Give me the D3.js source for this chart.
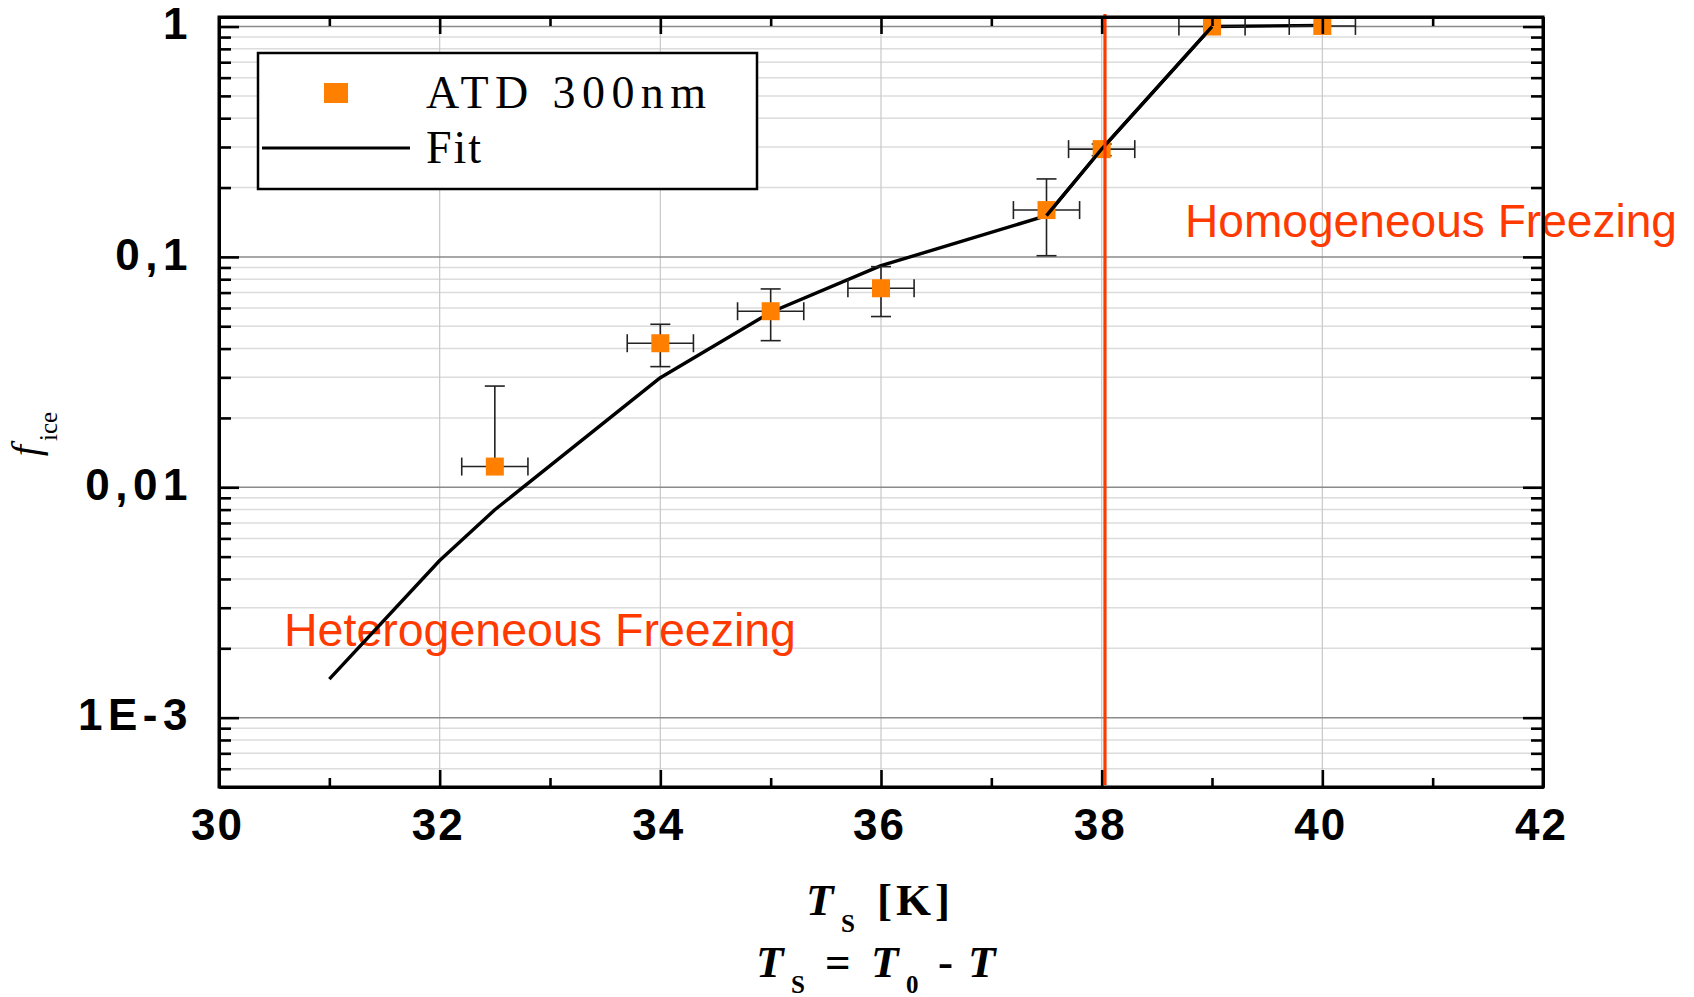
<!DOCTYPE html>
<html>
<head>
<meta charset="utf-8">
<script src="https://cdn.jsdelivr.net/npm/d3@7"></script>
<style>
  body { margin: 0; background: #fff; }
  svg { display: block; }
</style>
</head>
<body>
<svg id="chart"></svg>
<script>
// measured points: supercooling T_S vs frozen fraction
var tempS   = [32.5, 34, 35, 36, 37.5, 38, 39, 40];
var fIce    = [0.0123, 0.0422, 0.0581, 0.0731, 0.1597, 0.2937, 1.0, 1.006];
var fIceHi  = [0.0275, 0.051, 0.0726, 0.0907, 0.218, 0.309, null, null];
var fIceLo  = [null, 0.0334, 0.0433, 0.0551, 0.1012, 0.275, null, null];
var tempErr = [0.3, 0.3, 0.3, 0.3, 0.3, 0.3, 0.3, 0.3];

// fit curve
var fitT = [31, 32, 32.5, 34, 35, 36, 37.5, 38, 39, 40];
var fitF = [0.00147, 0.00481, 0.00799, 0.0299, 0.0575, 0.0916, 0.151, 0.294, 1.0, 1.012];

// homogeneous freezing threshold
var threshold = 38.03;

var xTicksMajor = [30, 32, 34, 36, 38, 40, 42];
var xTicksMinor = [31, 33, 35, 37, 39, 41];
var yTicksMajor = [0.001, 0.01, 0.1, 1];
var yTickLabels = ["1E-3", "0,01", "0,1", "1"];

var width = 1694, height = 997;
var pLeft = 219, pRight = 1543, pTop = 17, pBottom = 787;

var orange = "#ff8000";
var red = "#ff3a00";
var serif = "Liberation Serif, Times New Roman, serif";
var sans = "Liberation Sans, Arial, sans-serif";

var svg = d3.select("#chart").attr("width", width).attr("height", height);

var x = d3.scaleLinear().domain([30, 42]).range([pLeft, pRight]);
var y = d3.scaleLog().domain([5e-4, 1.1]).range([pBottom, pTop]);

/* grid */
var yAll = y.ticks().filter(function (v) { return v > 5.01e-4; });
function isDecade(v) { return Math.abs(Math.log10(v) - Math.round(Math.log10(v))) < 1e-6; }
var yMinor = yAll.filter(function (v) { return !isDecade(v); });

svg.append("g").selectAll("line").data(yMinor)
  .enter().append("line")
    .attr("x1", pLeft).attr("x2", pRight)
    .attr("y1", function (d) { return y(d); }).attr("y2", function (d) { return y(d); })
    .attr("stroke", "#dcdcdc").attr("stroke-width", 1.5);

svg.append("g").selectAll("line").data(xTicksMajor.slice(1, -1))
  .enter().append("line")
    .attr("x1", function (d) { return x(d); }).attr("x2", function (d) { return x(d); })
    .attr("y1", pTop).attr("y2", pBottom)
    .attr("stroke", "#c8c8c8").attr("stroke-width", 1.2);

svg.append("g").selectAll("line").data(yTicksMajor)
  .enter().append("line")
    .attr("x1", pLeft).attr("x2", pRight)
    .attr("y1", function (d) { return y(d); }).attr("y2", function (d) { return y(d); })
    .attr("stroke", "#8a8a8a").attr("stroke-width", 1.5);

/* annotations */
svg.append("text")
  .attr("x", 284).attr("y", 646)
  .attr("font-family", sans)
  .attr("font-size", 46).attr("fill", red)
  .attr("textLength", 512).attr("lengthAdjust", "spacingAndGlyphs")
  .text("Heterogeneous Freezing");

svg.append("text")
  .attr("x", 1185).attr("y", 237)
  .attr("font-family", sans)
  .attr("font-size", 46).attr("fill", red)
  .attr("textLength", 492).attr("lengthAdjust", "spacingAndGlyphs")
  .text("Homogeneous Freezing");

/* fit line */
var fitData = fitT.map(function (t, i) { return { t: t, f: fitF[i] }; });
var fitLine = d3.line().x(function (d) { return x(d.t); }).y(function (d) { return y(d.f); });
svg.append("path")
  .datum(fitData)
  .attr("fill", "none").attr("stroke", "#000").attr("stroke-width", 3.4)
  .attr("stroke-linejoin", "round")
  .attr("d", fitLine);

/* error bars + points */
var pts = tempS.map(function (t, i) {
  return { t: t, f: fIce[i], hi: fIceHi[i], lo: fIceLo[i], e: tempErr[i] };
});
var cap = 9;
var eb = svg.append("g").attr("stroke", "#222").attr("stroke-width", 1.6);
pts.forEach(function (d) {
  var cy = y(d.f);
  var x0 = x(d.t - d.e), x1 = x(d.t + d.e);
  eb.append("line").attr("x1", x0).attr("x2", x1).attr("y1", cy).attr("y2", cy);
  eb.append("line").attr("x1", x0).attr("x2", x0).attr("y1", cy - cap).attr("y2", cy + cap);
  eb.append("line").attr("x1", x1).attr("x2", x1).attr("y1", cy - cap).attr("y2", cy + cap);
  var cx = x(d.t);
  if (d.hi != null) {
    eb.append("line").attr("x1", cx).attr("x2", cx).attr("y1", cy).attr("y2", y(d.hi));
    eb.append("line").attr("x1", cx - cap - 1).attr("x2", cx + cap + 1).attr("y1", y(d.hi)).attr("y2", y(d.hi));
  }
  if (d.lo != null) {
    eb.append("line").attr("x1", cx).attr("x2", cx).attr("y1", cy).attr("y2", y(d.lo));
    eb.append("line").attr("x1", cx - cap - 1).attr("x2", cx + cap + 1).attr("y1", y(d.lo)).attr("y2", y(d.lo));
  }
});

svg.append("g").selectAll("rect").data(pts)
  .enter().append("rect")
    .attr("x", function (d) { return x(d.t) - 9; })
    .attr("y", function (d) { return y(d.f) - 9; })
    .attr("width", 18).attr("height", 18)
    .attr("fill", orange);

// in the original the fit crosses over the markers near the threshold
svg.append("path")
  .datum(fitData.filter(function (d) { return d.t >= 37.5 && d.t <= 39; }))
  .attr("fill", "none").attr("stroke", "#000").attr("stroke-width", 3.4)
  .attr("d", fitLine);

/* threshold line */
svg.append("line")
  .attr("x1", x(threshold)).attr("x2", x(threshold))
  .attr("y1", pTop - 3).attr("y2", pBottom - 2)
  .attr("stroke", red).attr("stroke-width", 3.2);

/* axes */
function styleAxis(g) {
  g.select(".domain").attr("stroke-width", 3).attr("stroke", "#000");
  g.selectAll(".tick line").attr("stroke-width", 2.6).attr("stroke", "#000");
}

svg.append("g").attr("transform", "translate(0," + pBottom + ")")
  .call(d3.axisBottom(x).tickValues(xTicksMinor).tickSize(-9).tickSizeOuter(0).tickFormat(""))
  .call(styleAxis);
var gxb = svg.append("g").attr("transform", "translate(0," + pBottom + ")")
  .call(d3.axisBottom(x).tickValues(xTicksMajor).tickSize(-17).tickSizeOuter(0).tickPadding(22).tickFormat(d3.format("d")))
  .call(styleAxis);
gxb.selectAll("text")
  .attr("font-family", sans)
  .attr("font-size", 44).attr("font-weight", "bold").attr("fill", "#000")
  .attr("letter-spacing", 2).attr("dx", -2);

svg.append("g").attr("transform", "translate(0," + pTop + ")")
  .call(d3.axisTop(x).tickValues(xTicksMinor).tickSize(-9).tickSizeOuter(0).tickFormat(""))
  .call(styleAxis);
svg.append("g").attr("transform", "translate(0," + pTop + ")")
  .call(d3.axisTop(x).tickValues(xTicksMajor).tickSize(-17).tickSizeOuter(0).tickFormat(""))
  .call(styleAxis);

svg.append("g").attr("transform", "translate(" + pLeft + ",0)")
  .call(d3.axisLeft(y).tickValues(yMinor).tickSize(-12).tickSizeOuter(0).tickFormat(""))
  .call(styleAxis);
var gyl = svg.append("g").attr("transform", "translate(" + pLeft + ",0)")
  .call(d3.axisLeft(y).tickValues(yTicksMajor).tickSize(-20).tickSizeOuter(0).tickPadding(26)
    .tickFormat(function (d, i) { return yTickLabels[i]; }))
  .call(styleAxis);
gyl.selectAll("text")
  .attr("font-family", sans)
  .attr("font-size", 44).attr("font-weight", "bold").attr("fill", "#000")
  .attr("letter-spacing", 5.5).attr("dy", "0.28em");

svg.append("g").attr("transform", "translate(" + pRight + ",0)")
  .call(d3.axisRight(y).tickValues(yMinor).tickSize(-12).tickSizeOuter(0).tickFormat(""))
  .call(styleAxis);
svg.append("g").attr("transform", "translate(" + pRight + ",0)")
  .call(d3.axisRight(y).tickValues(yTicksMajor).tickSize(-20).tickSizeOuter(0).tickFormat(""))
  .call(styleAxis);

// close frame corners
svg.append("rect")
  .attr("x", pLeft).attr("y", pTop).attr("width", pRight - pLeft).attr("height", pBottom - pTop)
  .attr("fill", "none").attr("stroke", "#000").attr("stroke-width", 3);

/* legend */
var lg = svg.append("g");
lg.append("rect").attr("x", 258).attr("y", 53).attr("width", 499).attr("height", 136)
  .attr("fill", "#fff").attr("stroke", "#000").attr("stroke-width", 2.5);
lg.append("rect").attr("x", 324).attr("y", 83).attr("width", 24).attr("height", 20).attr("fill", orange);
lg.append("line").attr("x1", 262).attr("x2", 410).attr("y1", 148).attr("y2", 148)
  .attr("stroke", "#000").attr("stroke-width", 3);
lg.append("text").attr("x", 426).attr("y", 108)
  .attr("font-family", serif).attr("font-size", 46)
  .attr("textLength", 280).attr("lengthAdjust", "spacing")
  .text("ATD 300nm");
lg.append("text").attr("x", 426).attr("y", 163)
  .attr("font-family", serif).attr("font-size", 46)
  .attr("letter-spacing", 2)
  .text("Fit");

/* axis titles */
var yt = svg.append("text")
  .attr("transform", "translate(39,434) rotate(-90)")
  .attr("text-anchor", "middle")
  .attr("font-family", serif);
yt.append("tspan").attr("font-style", "italic").attr("font-size", 40).text("f");
yt.append("tspan").attr("font-size", 25).attr("dy", 18).attr("dx", 4).text("ice");

var cx = (pLeft + pRight) / 2;
function titlePart(t, dx, dy, txt, opts) {
  var s = t.append("tspan").attr("x", cx + dx).attr("y", dy).text(txt);
  if (opts && opts.italic) s.attr("font-style", "italic");
  if (opts && opts.size) s.attr("font-size", opts.size);
  if (opts && opts.ls) s.attr("letter-spacing", opts.ls);
  return s;
}
var xt1 = svg.append("text").attr("font-family", serif).attr("font-weight", "bold").attr("font-size", 45);
titlePart(xt1, -75, 915, "T", { italic: true });
titlePart(xt1, -40, 932, "S", { size: 25 });
titlePart(xt1, -4, 915, "[K]", { ls: 4 });

var xt2 = svg.append("text").attr("font-family", serif).attr("font-weight", "bold").attr("font-size", 45);
titlePart(xt2, -125, 977, "T", { italic: true });
titlePart(xt2, -90, 993, "S", { size: 25 });
titlePart(xt2, -56, 977, "=");
titlePart(xt2, -10, 977, "T", { italic: true });
titlePart(xt2, 25, 993, "0", { size: 25 });
titlePart(xt2, 57, 977, "-");
titlePart(xt2, 87, 977, "T", { italic: true });
</script>
</body>
</html>
